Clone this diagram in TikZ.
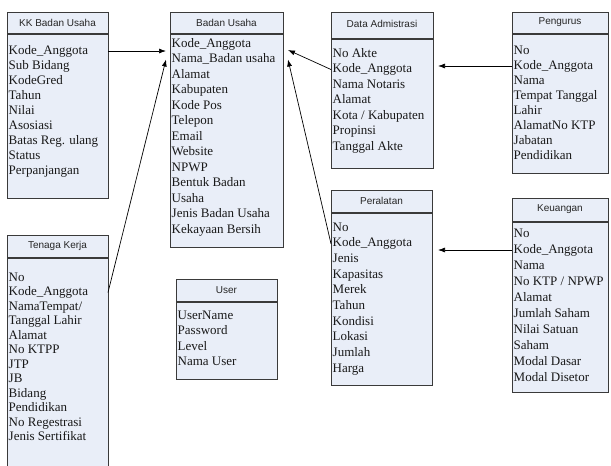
\documentclass[tikz,border=0pt]{standalone}
\usepackage{fontspec}
\setmainfont{Liberation Serif}
\newfontfamily\hdfont{Liberation Sans}
\usetikzlibrary{arrows.meta,calc}
\definecolor{boxfill}{HTML}{E9EEF8}
\definecolor{boxline}{HTML}{3A3A3A}
\tikzset{
  ebox/.style={draw=boxline, fill=boxfill, line width=0.8pt, inner sep=0pt, outer sep=0pt, anchor=north west},
  etitle/.style={font=\hdfont\fontsize{10}{12}\selectfont, inner sep=0pt, text=black!85},
  erow/.style={font=\fontsize{13}{15}\selectfont, anchor=west, inner sep=0pt, text height=9pt, text depth=3pt, text=black!90},
  ediv/.style={draw=boxline, line width=1.5pt},
  conn/.style={draw=black, line width=0.7pt, -{Latex[length=7pt,width=5pt]}},
}
\newcommand\erows[5]{\foreach \r [count=\i] in {#5}{\node[erow] (#1-\i) at (#2,{#3+(\i-1)*#4}) {\r};}}
\newcommand\entity[8]{%
  \node[ebox, minimum width=#4pt, minimum height=#5pt] (#1) at (#2,#3) {};
  \draw[ediv] (#1.west |- 0,#6) -- (#1.east |- 0,#6);
  \node[etitle] (#1-t) at (#1.north |- 0,#7) {#8};
}
\begin{document}
\begin{tikzpicture}[x=1pt,y=-1pt]
\fill[white] (0,0) rectangle (611,466);
\useasboundingbox (0,0) rectangle (611,466);

\entity{kk}{7}{12}{101}{186}{34}{23}{KK Badan Usaha}
\erows{kk}{8.5}{51}{15}{Kode\_Anggota,Sub Bidang,KodeGred,Tahun,Nilai,Asosiasi,Batas Reg. ulang,Status,Perpanjangan}

\entity{bu}{170}{12}{113}{235}{34}{23}{Badan Usaha}
\erows{bu}{171.5}{44}{15.5}{Kode\_Anggota,Nama\_Badan usaha,Alamat,Kabupaten,Kode Pos,Telepon,Email,Website,NPWP,Bentuk Badan,Usaha,Jenis Badan Usaha,Kekayaan Bersih}

\entity{da}{331}{12}{102}{156}{39}{24}{Data Admistrasi}
\erows{da}{332.5}{54}{15.5}{No Akte,Kode\_Anggota,Nama Notaris,Alamat,Kota / Kabupaten,Propinsi,Tanggal Akte}

\entity{pg}{512}{12}{96}{161}{34}{22}{Pengurus}
\erows{pg}{513.5}{51}{15}{No,Kode\_Anggota,Nama,Tempat Tanggal,Lahir,AlamatNo KTP,Jabatan,Pendidikan}

\entity{tk}{7}{235}{101}{245}{258}{246}{Tenaga Kerja}
\erows{tk}{8.5}{278}{14.5}{No,Kode\_Anggota,NamaTempat/,Tanggal Lahir,Alamat,No KTPP,JTP,JB,Bidang,Pendidikan,No Regestrasi,Jenis Sertifikat}

\entity{us}{176}{279}{101}{100}{302}{290}{User}
\erows{us}{177.5}{316}{15.5}{UserName,Password,Level,Nama User}

\entity{pl}{331}{190}{101}{195}{213}{201}{Peralatan}
\erows{pl}{332.5}{228}{15.7}{No,Kode\_Anggota,Jenis,Kapasitas,Merek,Tahun,Kondisi,Lokasi,Jumlah,Harga}

\entity{ku}{512}{198}{96}{194}{222}{209}{Keuangan}
\erows{ku}{513.5}{234}{16}{No,Kode\_Anggota,Nama,No KTP / NPWP,Alamat,Jumlah Saham,Nilai Satuan,Saham,Modal Dasar,Modal Disetor}

\draw[conn] (kk.east |- kk-1) -- ($(bu.west |- kk-1)+(-4,0)$);
\draw[conn] (tk.east |- tk-2) -- ($(bu.west |- bu-2)+(-4,0)$);
\draw[conn] (da.west |- da-2) -- ($(bu.east |- bu-1)+(5,6)$);
\draw[conn] (pl.west |- pl-2) -- ($(bu.east |- bu-2)+(5,0)$);
\draw[conn] (pg.west |- pg-2) -- ($(da.east |- pg-2)+(5,0)$);
\draw[conn] (ku.west |- ku-2) -- ($(pl.east |- ku-2)+(6,0)$);
\end{tikzpicture}
\end{document}
